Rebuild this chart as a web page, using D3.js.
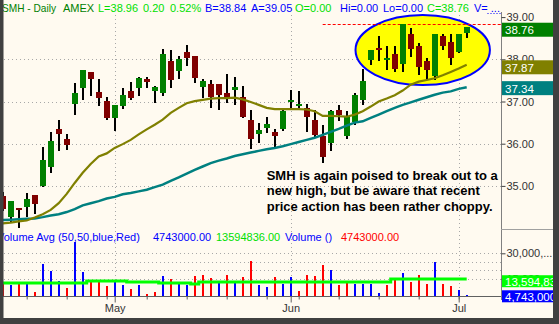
<!DOCTYPE html>
<html><head><meta charset="utf-8">
<script src="https://cdn.jsdelivr.net/npm/d3@7"></script>
<style>body{margin:0;background:#fffaf0;overflow:hidden}text{font-family:Arial,"Liberation Sans",sans-serif}</style>
</head><body><svg id="c" width="559" height="324"></svg>
<script>
// ---- data (daily bars, index 0 = Apr 11 .. 58 = Jul 3) ----
const opens  = [34.76,34.27,34.48,34.51,34.78,35.00,35.45,36.35,36.11,36.95,37.33,37.70,37.22,37.01,36.62,36.90,37.25,37.33,37.53,37.26,37.21,37.96,37.73,38.17,38.09,37.35,37.41,37.41,37.19,37.27,37.10,36.56,36.22,36.38,36.27,36.34,36.99,36.90,36.85,36.56,36.19,36.01,36.80,36.19,36.51,37.04,37.98,38.27,37.98,38.13,37.89,38.60,38.31,37.96,37.61,38.55,38.42,38.18,38.63];
const highs  = [34.85,34.64,34.48,34.83,34.78,35.93,36.28,36.56,36.22,37.45,37.75,37.70,37.53,37.10,36.92,37.33,37.47,37.59,37.59,37.37,38.24,38.22,38.07,38.34,38.09,37.53,37.51,37.41,37.64,37.59,37.37,36.80,36.48,36.63,36.36,36.80,37.27,37.26,36.94,36.80,36.44,36.80,36.92,36.78,37.20,37.77,38.22,38.55,38.31,38.31,38.84,38.75,38.39,38.02,38.60,38.60,38.60,38.60,38.77];
const lows   = [34.40,34.15,34.00,34.27,34.33,34.98,35.31,35.83,35.85,36.68,37.04,37.13,36.90,36.55,36.31,36.82,37.04,37.14,37.33,36.97,37.13,37.33,37.53,37.85,37.45,37.08,36.85,36.80,36.97,36.92,36.60,35.88,36.02,36.26,35.91,36.31,36.80,36.80,36.28,36.17,35.54,35.83,36.54,36.10,36.45,36.92,37.86,37.96,37.75,37.71,37.69,38.05,37.63,37.51,37.51,38.22,37.86,38.14,38.51];
const closes = [34.45,34.64,34.43,34.69,34.57,35.61,36.06,36.24,35.98,37.21,37.75,37.53,37.09,36.62,36.92,37.15,37.09,37.56,37.47,37.35,38.13,37.51,38.01,38.04,37.56,37.49,37.11,37.15,37.09,37.35,36.63,36.10,36.32,36.46,36.19,36.78,37.04,36.94,36.64,36.21,35.68,36.77,36.68,36.66,37.15,37.49,38.22,38.22,38.04,37.77,38.84,38.24,37.82,37.75,38.60,38.32,38.04,38.60,38.76];
const maFast = [34.11,34.13,34.16,34.18,34.25,34.33,34.43,34.59,34.81,35.07,35.31,35.52,35.70,35.77,35.90,35.99,36.09,36.22,36.34,36.45,36.57,36.73,36.85,36.96,37.01,37.04,37.07,37.08,37.08,37.09,37.05,36.99,36.92,36.85,36.82,36.82,36.82,36.82,36.81,36.77,36.66,36.66,36.65,36.64,36.69,36.77,36.88,37.00,37.07,37.15,37.26,37.40,37.47,37.51,37.55,37.62,37.70,37.78,37.87];
const maSlow = [34.19,34.20,34.21,34.22,34.23,34.26,34.30,34.33,34.38,34.45,34.54,34.59,34.64,34.70,34.74,34.80,34.83,34.87,34.91,34.97,35.03,35.12,35.20,35.29,35.38,35.46,35.54,35.60,35.65,35.71,35.75,35.79,35.83,35.87,35.90,35.94,35.99,36.04,36.09,36.14,36.21,36.28,36.35,36.43,36.50,36.53,36.61,36.69,36.77,36.85,36.92,36.98,37.04,37.10,37.16,37.21,37.24,37.30,37.34];
// volume in millions of shares; 1 = up day (blue), 0 = down day (red)
const volumes = [12,11.1,12.6,13.2,7.4,23.8,19.7,13.8,9.7,36.4,19.1,13.8,14.4,10.9,13.8,11.5,9.1,11.5,6.2,7.4,16.8,15.0,13.2,11.5,16.8,17.4,15.6,13.2,17.4,13.2,16.2,25.6,11.5,10.3,15.8,12.2,15.8,7.9,17.4,16.8,23.4,20.3,11.1,12.8,11.7,12.2,12.2,6.9,11.1,15.2,18.5,13.2,17.0,11.7,24.6,12.2,10.5,8.7,4.743];
const volUp   = [0,1,0,1,0,1,1,1,0,1,1,0,0,0,1,1,0,1,0,0,1,0,1,1,0,0,0,1,0,1,0,0,1,1,0,1,1,0,0,0,0,1,0,0,1,1,1,1,0,0,1,0,0,0,1,0,0,1,1];
const volAvg  = [12.7,12.7,12.7,12.7,12.7,12.7,12.7,12.7,12.7,12.7,12.7,13.9,13.9,13.9,13.9,13.9,13.1,13.1,13.1,13.1,12.7,12.7,12.7,12.7,12.1,13.1,13.1,13.1,13.1,13.1,13.1,13.1,13.1,13.1,13.3,13.3,13.3,13.3,13.3,13.3,13.3,13.3,13.3,13.3,13.3,13.3,13.3,13.3,13.3,14.7,14.7,14.7,14.7,14.7,14.7,14.7,14.7,14.7,14.7];
const volAvgLast = 13.594836;
const bid = 38.84, ask = 39.05;
const priceTicks = [35,36,37,38,39];
const priceGrid = [35,36,37,38];
const volGrid = [15,20,25,30];
const volLabels = [30,15];
const weekTicks = [3,8,13,18,23,28,33,37,42,47,52,57];
const monthTicks = [14,36,57];
const monthLabels = ["May","Jun","Jul"];
const header = [
  ["SMH - Daily","#008000",2,54],["AMEX","#008000",63,0],["L=38.96","#00e000",98,0],["0.20","#00e000",143,0],
  ["0.52%","#00e000",170,0],["B=38.84","#0000ff",205,0],["A=39.05","#0000ff",251,0],["O=0.00","#00e000",295,0],
  ["Hi=0.00","#0000ff",340,0],["Lo=0.00","#0000ff",383,0],["C=38.76","#00e000",427,0],["V= ...","#0000ff",474,0]];
const volHeader = [
  ["Volume Avg (50,50,blue,Red)","#0000ff",-3],["4743000.00","#0000ff",153],["13594836.00","#00e000",216],
  ["Volume ()","#0000ff",285],["4743000.00","#ff0000",341]];
const note = ["SMH is again poised to break out to a","new high, but be aware that recent","price action has been rather choppy."];

// ---- drawing ----
const svg = d3.select("#c");
const W = 559, H = 324, axisX = 501;
const x = d3.scaleLinear().domain([0, 58]).range([2.7, 466.7]);
const y = d3.scaleLinear().domain([35, 38]).range([185.9, 59.3]);
const yv = d3.scaleLinear().domain([4.5, 30]).range([296.7, 253.3]);
const cx = i => Math.round(x(i));

svg.append("rect").attr("width", W).attr("height", H).attr("fill", "#fffaf0");

// grid
const g = svg.append("g").attr("stroke", "#a8a8a8").attr("stroke-dasharray", "1,3");
priceGrid.forEach(p => g.append("line").attr("x1", 4).attr("x2", axisX).attr("y1", Math.round(y(p)) + 0.5).attr("y2", Math.round(y(p)) + 0.5));
volGrid.forEach(v => g.append("line").attr("x1", 4).attr("x2", axisX).attr("y1", Math.round(yv(v)) + 0.5).attr("y2", Math.round(yv(v)) + 0.5));
monthTicks.forEach(i => g.append("line").attr("x1", cx(i) + 0.5).attr("x2", cx(i) + 0.5).attr("y1", 15).attr("y2", 296));

// highlight ellipse
const e0 = 44.1, e1 = 60.9, eTop = 39.05, eBot = 37.39;
svg.append("ellipse")
  .attr("cx", (x(e0) + x(e1)) / 2).attr("cy", (y(eTop) + y(eBot)) / 2)
  .attr("rx", (x(e1) - x(e0)) / 2).attr("ry", (y(eBot) - y(eTop)) / 2)
  .attr("fill", "#ffff00").attr("stroke", "#0000ff").attr("stroke-width", 2);

// bid / ask lines
svg.append("line").attr("x1", x(40)).attr("x2", axisX).attr("y1", Math.round(y(bid)) + 0.5).attr("y2", Math.round(y(bid)) + 0.5)
  .attr("stroke", "#ff0000").attr("stroke-dasharray", "3,2");
svg.append("line").attr("x1", x(60.6)).attr("x2", axisX).attr("y1", Math.round(y(ask)) - 1.5).attr("y2", Math.round(y(ask)) - 1.5)
  .attr("stroke", "#0000ff").attr("stroke-dasharray", "1,2");

// candles
const cg = svg.append("g");
opens.forEach((o, i) => {
  const c = closes[i];
  cg.append("rect").attr("x", cx(i) - 1).attr("width", 2)
    .attr("y", Math.round(y(highs[i]))).attr("height", Math.max(1, Math.round(y(lows[i])) - Math.round(y(highs[i]))))
    .attr("fill", "#000");
  const t = Math.round(y(Math.max(o, c))), b = Math.round(y(Math.min(o, c)));
  cg.append("rect").attr("x", cx(i) - 3).attr("width", 6)
    .attr("y", t).attr("height", Math.max(2, b - t))
    .attr("fill", c >= o ? "#008000" : "#800000");
});

// moving averages
const line = d3.line().x((d, i) => x(i)).y(d => y(d));
svg.append("path").attr("d", line(maSlow)).attr("fill", "none").attr("stroke", "#008080").attr("stroke-width", 2.5);
svg.append("path").attr("d", line(maFast)).attr("fill", "none").attr("stroke", "#808000").attr("stroke-width", 2.2);

// volume bars
const vg = svg.append("g");
volumes.forEach((v, i) => {
  const top = Math.min(Math.round(yv(v)), 295);
  vg.append("rect").attr("x", cx(i) - 1).attr("width", 2).attr("y", top).attr("height", 297 - top)
    .attr("fill", volUp[i] ? "#0000ff" : "#ff0000");
});
svg.append("path").attr("d", d3.line().curve(d3.curveStep).x((d, i) => x(i)).y(d => Math.round(yv(d)))(volAvg))
  .attr("fill", "none").attr("stroke", "#00ff00").attr("stroke-width", 3);

// note
const nt = svg.append("text").attr("font-size", 13).attr("font-weight", "bold").attr("fill", "#000");
note.forEach((s, k) => nt.append("tspan").attr("x", x(33)).attr("y", y(35.14) + k * 15.5).text(s));

// bottom axis
const axisCol = "#606060";
const xb = svg.append("g").attr("transform", "translate(0,296.5)")
  .call(d3.axisBottom(x).tickValues(weekTicks).tickSize(3).tickFormat(""));
const xm = svg.append("g").attr("transform", "translate(0,296.5)")
  .call(d3.axisBottom(x).tickValues(monthTicks).tickSize(6).tickPadding(2).tickFormat((d, k) => monthLabels[k]));
[xb, xm].forEach(a => { a.select(".domain").remove(); a.selectAll("line").attr("stroke", axisCol); });
xm.selectAll("text").attr("font-size", 11).attr("fill", "#333").attr("font-family", "Arial");
svg.append("line").attr("x1", 3).attr("x2", axisX).attr("y1", 296.5).attr("y2", 296.5).attr("stroke", axisCol);

// right axes
svg.append("line").attr("x1", axisX + 0.5).attr("x2", axisX + 0.5).attr("y1", 12).attr("y2", 300).attr("stroke", "#808080");
svg.append("line").attr("x1", axisX).attr("x2", W).attr("y1", 229.5).attr("y2", 229.5).attr("stroke", "#a0a0a0");
const ya = svg.append("g").attr("transform", `translate(${axisX + 0.5},0)`)
  .call(d3.axisRight(y).tickValues(priceTicks).tickSize(4).tickPadding(1).tickFormat(d3.format(".2f")));
const yva = svg.append("g").attr("transform", `translate(${axisX + 0.5},0)`)
  .call(d3.axisRight(yv).tickValues(volLabels).tickSize(4).tickPadding(1).tickFormat(d => d3.format(",")(d * 1e6).slice(0, 7) + "..."));
[ya, yva].forEach(a => {
  a.select(".domain").remove();
  a.selectAll("line").attr("stroke", "#404040");
  a.selectAll("text").attr("font-size", 11).attr("fill", "#333").attr("font-family", "Arial");
});

// value boxes
function box(v, scale, col, label, h, off) {
  const cy = scale(v) + off;
  svg.append("rect").attr("x", axisX + 1).attr("y", cy - h / 2).attr("width", W - axisX).attr("height", h).attr("fill", col);
  svg.append("text").attr("x", axisX + 4).attr("y", cy + 4.5).attr("fill", "#fff").attr("font-size", 11.5).text(label);
}
box(closes[58], y, "#008000", d3.format(".2f")(closes[58]), 14, 2.5);
box(maFast[58], y, "#808000", d3.format(".2f")(maFast[58]), 14, 2.5);
box(maSlow[58], y, "#008080", d3.format(".2f")(maSlow[58]), 14, 1);
box(volAvgLast, yv, "#00ff00", d3.format(",")(Math.round(volAvgLast * 1e6)), 12, 0);
box(volumes[58], yv, "#0000ff", d3.format(",")(Math.round(volumes[58] * 1e6)), 12, 0);

// header texts
header.forEach(([s, c, px, len]) => {
  const t = svg.append("text").attr("x", px).attr("y", 11.5).attr("font-size", 11).attr("fill", c).text(s);
  if (len) t.attr("textLength", len).attr("lengthAdjust", "spacingAndGlyphs");
});
volHeader.forEach(([s, c, px]) => svg.append("text").attr("x", px).attr("y", 240.5).attr("font-size", 11).attr("fill", c).text(s));

// frame
svg.append("rect").attr("x", 0).attr("y", 0).attr("width", 3.5).attr("height", H).attr("fill", "#404040");
svg.append("rect").attr("x", 553).attr("y", 0).attr("width", 6).attr("height", H).attr("fill", "#404040");
svg.append("rect").attr("x", 0).attr("y", 318).attr("width", W).attr("height", 6).attr("fill", "#404040");
</script></body></html>
